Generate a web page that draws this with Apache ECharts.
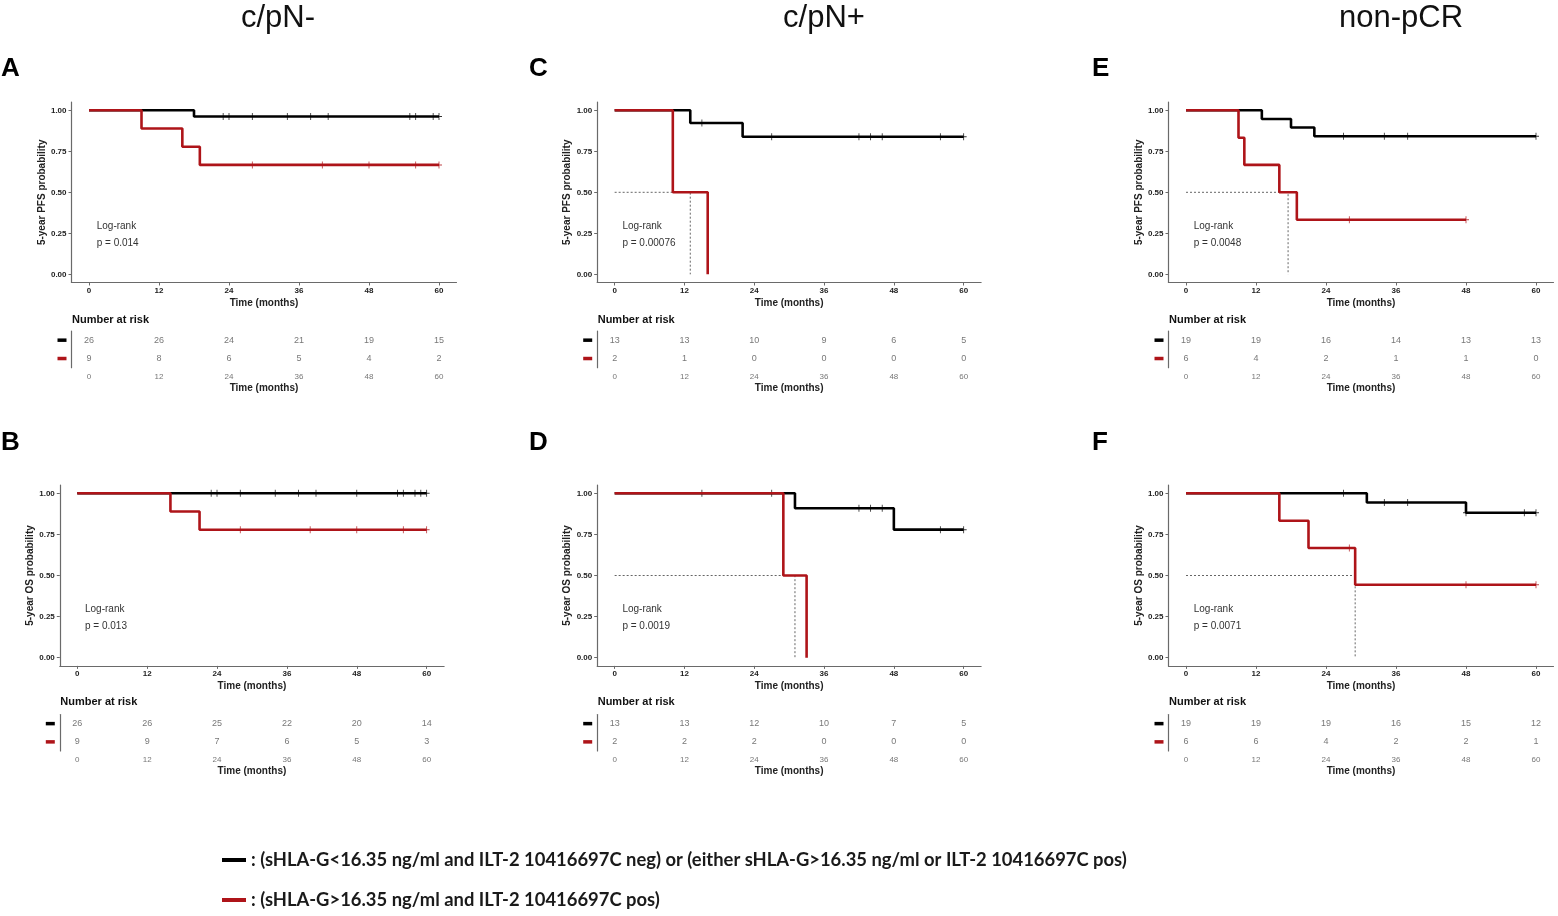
<!DOCTYPE html>
<html><head><meta charset="utf-8">
<script src="https://cdn.jsdelivr.net/npm/echarts@6/dist/echarts.min.js"></script>
<style>html,body{margin:0;padding:0;background:#fff}#c{width:1558px;height:916px}</style>
</head><body><div id="c"></div>
<script>
// ---------- data ----------
const timeTicks = [0, 12, 24, 36, 48, 60];
const probTicks = [0, 0.25, 0.5, 0.75, 1];
const riskRows = ['black', 'red'];
const columnTitles = ['c/pN-', 'c/pN+', 'non-pCR'];
const blackName = '(sHLA-G<16.35 ng/ml and ILT-2 10416697C neg) or (either sHLA-G>16.35 ng/ml or ILT-2 10416697C pos)';
const redName = '(sHLA-G>16.35 ng/ml and ILT-2 10416697C pos)';

// A: PFS, c/pN-
const pfsNegBlack = [[0, 1], [18, 0.962], [60, 0.962]];
const pfsNegRed = [[0, 1], [9, 0.889], [16, 0.778], [19, 0.667], [60, 0.667]];
const pfsNegBlackCens = [[23, 0.962], [24, 0.962], [28, 0.962], [34, 0.962], [38, 0.962], [41, 0.962], [55, 0.962], [56, 0.962], [59, 0.962], [60, 0.962]];
const pfsNegRedCens = [[28, 0.667], [40, 0.667], [48, 0.667], [56, 0.667], [60, 0.667]];
const pfsNegRiskBlack = [26, 26, 24, 21, 19, 15];
const pfsNegRiskRed = [9, 8, 6, 5, 4, 2];
// B: OS, c/pN-
const osNegBlack = [[0, 1], [60, 1]];
const osNegRed = [[0, 1], [16, 0.889], [21, 0.778], [60, 0.778]];
const osNegBlackCens = [[23, 1], [24, 1], [28, 1], [34, 1], [38, 1], [41, 1], [48, 1], [55, 1], [56, 1], [58, 1], [59, 1], [60, 1]];
const osNegRedCens = [[28, 0.778], [40, 0.778], [48, 0.778], [56, 0.778], [60, 0.778]];
const osNegRiskBlack = [26, 26, 25, 22, 20, 14];
const osNegRiskRed = [9, 9, 7, 6, 5, 3];
// C: PFS, c/pN+
const pfsPosBlack = [[0, 1], [13, 0.923], [22, 0.839], [60, 0.839]];
const pfsPosRed = [[0, 1], [10, 0.5], [16, 0]];
const pfsPosBlackCens = [[15, 0.923], [27, 0.839], [42, 0.839], [44, 0.839], [46, 0.839], [56, 0.839], [60, 0.839]];
const pfsPosRedCens = [];
const pfsPosMedian = [[0, 0.5], [13, 0.5], [13, 0]];
const pfsPosRiskBlack = [13, 13, 10, 9, 6, 5];
const pfsPosRiskRed = [2, 1, 0, 0, 0, 0];
// D: OS, c/pN+
const osPosBlack = [[0, 1], [31, 0.909], [48, 0.779], [60, 0.779]];
const osPosRed = [[0, 1], [29, 0.5], [33, 0]];
const osPosBlackCens = [[15, 1], [27, 1], [42, 0.909], [44, 0.909], [46, 0.909], [56, 0.779], [60, 0.779]];
const osPosRedCens = [];
const osPosMedian = [[0, 0.5], [31, 0.5], [31, 0]];
const osPosRiskBlack = [13, 13, 12, 10, 7, 5];
const osPosRiskRed = [2, 2, 2, 0, 0, 0];
// E: PFS, non-pCR
const pfsNpBlack = [[0, 1], [13, 0.947], [18, 0.895], [22, 0.842], [60, 0.842]];
const pfsNpRed = [[0, 1], [9, 0.833], [10, 0.667], [16, 0.5], [19, 0.333], [48, 0.333]];
const pfsNpBlackCens = [[27, 0.842], [34, 0.842], [38, 0.842], [60, 0.842]];
const pfsNpRedCens = [[28, 0.333], [48, 0.333]];
const pfsNpMedian = [[0, 0.5], [17.5, 0.5], [17.5, 0]];
const pfsNpRiskBlack = [19, 19, 16, 14, 13, 13];
const pfsNpRiskRed = [6, 4, 2, 1, 1, 0];
// F: OS, non-pCR
const osNpBlack = [[0, 1], [31, 0.944], [48, 0.882], [60, 0.882]];
const osNpRed = [[0, 1], [16, 0.833], [21, 0.667], [29, 0.444], [60, 0.444]];
const osNpBlackCens = [[27, 1], [34, 0.944], [38, 0.944], [48, 0.882], [58, 0.882], [60, 0.882]];
const osNpRedCens = [[28, 0.667], [48, 0.444], [60, 0.444]];
const osNpMedian = [[0, 0.5], [29, 0.5], [29, 0]];
const osNpRiskBlack = [19, 19, 19, 16, 15, 12];
const osNpRiskRed = [6, 6, 4, 2, 2, 1];

// ---------- layout / style ----------
const RED = '#AE1419';
const FONT = 'Liberation Sans, Arial, sans-serif';
const AX = '#6a6a6a';
const panels = [
  {L: 'A', row: 0, gl: 71.5, gw: 385, yName: '5-year PFS probability', black: pfsNegBlack, red: pfsNegRed, bc: pfsNegBlackCens, rc: pfsNegRedCens, med: null, rb: pfsNegRiskBlack, rr: pfsNegRiskRed, p: 'p = 0.014', lx: 10},
  {L: 'B', row: 1, gl: 59.8, gw: 384.3, yName: '5-year OS probability', black: osNegBlack, red: osNegRed, bc: osNegBlackCens, rc: osNegRedCens, med: null, rb: osNegRiskBlack, rr: osNegRiskRed, p: 'p = 0.013', lx: 10},
  {L: 'C', row: 0, gl: 597.2, gw: 383.9, yName: '5-year PFS probability', black: pfsPosBlack, red: pfsPosRed, bc: pfsPosBlackCens, rc: pfsPosRedCens, med: pfsPosMedian, rb: pfsPosRiskBlack, rr: pfsPosRiskRed, p: 'p = 0.00076', lx: 538},
  {L: 'D', row: 1, gl: 597.2, gw: 383.9, yName: '5-year OS probability', black: osPosBlack, red: osPosRed, bc: osPosBlackCens, rc: osPosRedCens, med: osPosMedian, rb: osPosRiskBlack, rr: osPosRiskRed, p: 'p = 0.0019', lx: 538},
  {L: 'E', row: 0, gl: 1168.5, gw: 385, yName: '5-year PFS probability', black: pfsNpBlack, red: pfsNpRed, bc: pfsNpBlackCens, rc: pfsNpRedCens, med: pfsNpMedian, rb: pfsNpRiskBlack, rr: pfsNpRiskRed, p: 'p = 0.0048', lx: 1101},
  {L: 'F', row: 1, gl: 1168.5, gw: 385, yName: '5-year OS probability', black: osNpBlack, red: osNpRed, bc: osNpBlackCens, rc: osNpRedCens, med: osNpMedian, rb: osNpRiskBlack, rr: osNpRiskRed, p: 'p = 0.0071', lx: 1101}
];
const rows = [
  {top: 102.1, h: 180.4, rt: 331, rh: 36.7, nar: 321, lr: 227, letter: 69},
  {top: 485.1, h: 180.8, rt: 714.5, rh: 36.5, nar: 703.7, lr: 610.3, letter: 443}
];
const titleX = [278, 824, 1401];

const plus = 'path://M3,0H4V7H3Z M0,3H7V4H0Z';
const grid = [], xAxis = [], yAxis = [], series = [], graphic = [];

panels.forEach((P, i) => {
  const R = rows[P.row];
  const gi = 2 * i, ri = 2 * i + 1;
  grid.push({left: P.gl, top: R.top, width: P.gw, height: R.h});
  grid.push({left: P.gl, top: R.rt, width: P.gw, height: R.rh});
  const xBase = {
    type: 'value', min: -3, max: 63, splitLine: {show: false},
    axisLine: {onZero: false, lineStyle: {color: AX, width: 1.2}},
    axisTick: {length: 3, lineStyle: {color: AX}, customValues: timeTicks},
    nameLocation: 'middle', name: 'Time (months)',
    nameTextStyle: {fontFamily: FONT, fontSize: 10, fontWeight: 'bold', color: '#222'}
  };
  xAxis.push(Object.assign({}, xBase, {gridIndex: gi, nameGap: 15.5,
    axisLabel: {customValues: timeTicks, fontFamily: FONT, fontSize: 8, fontWeight: 'bold', color: '#222', margin: 4}}));
  xAxis.push(Object.assign({}, xBase, {gridIndex: ri, nameGap: 15.5,
    axisLabel: {customValues: timeTicks, fontFamily: FONT, fontSize: 8, color: '#777', margin: 5}}));
  yAxis.push({
    gridIndex: gi, type: 'value', min: -0.05, max: 1.05, splitLine: {show: false},
    axisLine: {show: true, onZero: false, lineStyle: {color: AX, width: 1.2}},
    axisTick: {show: true, length: 3, lineStyle: {color: AX}, customValues: probTicks},
    axisLabel: {customValues: probTicks, formatter: v => v.toFixed(2), fontFamily: FONT, fontSize: 8, fontWeight: 'bold', color: '#222', margin: 5},
    name: P.yName, nameLocation: 'middle', nameGap: 19,
    nameTextStyle: {fontFamily: FONT, fontSize: 10, fontWeight: 'bold', color: '#222'}
  });
  yAxis.push({
    gridIndex: ri, type: 'category', data: riskRows, inverse: true,
    axisLine: {show: true, onZero: false, lineStyle: {color: AX, width: 1.2}},
    axisTick: {show: false},
    axisLabel: {margin: 5, formatter: v => v === 'black' ? '{k| }' : '{r| }',
      rich: {k: {backgroundColor: '#000', width: 9, height: 3.5, fontSize: 1},
             r: {backgroundColor: RED, width: 9, height: 3.5, fontSize: 1}}}
  });
  if (P.med) series.push({type: 'line', xAxisIndex: gi, yAxisIndex: gi, data: P.med, symbol: 'none',
    lineStyle: {color: '#555', width: 0.9, type: [2, 2]}, silent: true, z: 1});
  series.push({name: blackName, type: 'line', step: 'end', xAxisIndex: gi, yAxisIndex: gi, data: P.black, symbol: 'none',
    itemStyle: {color: '#000'}, lineStyle: {color: '#000', width: 2.6}, z: 2});
  series.push({name: 'cens-b', type: 'scatter', xAxisIndex: gi, yAxisIndex: gi, data: P.bc, symbol: plus, symbolSize: [6, 7],
    itemStyle: {color: '#000'}, z: 3});
  series.push({name: redName, type: 'line', step: 'end', xAxisIndex: gi, yAxisIndex: gi, data: P.red, symbol: 'none',
    itemStyle: {color: RED}, lineStyle: {color: RED, width: 2.6}, z: 4});
  series.push({name: 'cens-r', type: 'scatter', xAxisIndex: gi, yAxisIndex: gi, data: P.rc, symbol: plus, symbolSize: [6, 7],
    itemStyle: {color: RED}, z: 5});
  [[P.rb, 0], [P.rr, 1]].forEach(([arr, r]) => {
    series.push({type: 'scatter', xAxisIndex: ri, yAxisIndex: ri, symbolSize: 0,
      data: timeTicks.map((t, j) => [t, r, arr[j]]),
      label: {show: true, position: 'inside', formatter: p => String(p.value[2]), fontFamily: FONT, fontSize: 9, color: '#555'}});
  });
  graphic.push({type: 'text', left: P.gl + 25.2, top: R.lr - 6, style: {text: 'Log-rank', font: '10px ' + FONT, fill: '#333'}});
  graphic.push({type: 'text', left: P.gl + 25.2, top: R.lr + 11, style: {text: P.p, font: '10px ' + FONT, fill: '#333'}});
  graphic.push({type: 'text', left: P.gl + 0.5, top: R.nar - 7, style: {text: 'Number at risk', font: 'bold 11px ' + FONT, fill: '#111'}});
  graphic.push({type: 'text', left: P.lx - 9, top: R.letter - 13, style: {text: P.L, font: 'bold 26px ' + FONT, fill: '#000'}});
});
columnTitles.forEach((t, k) => {
  graphic.push({type: 'text', x: titleX[k], y: 18, style: {text: t, font: '31px ' + FONT, fill: '#111', align: 'center', verticalAlign: 'middle'}});
});

const legendText = {fontSize: 18.4, fontFamily: 'Lato, ' + FONT, fontWeight: 'bold', color: '#1a1a1a', lineHeight: 22};
const chart = echarts.init(document.getElementById('c'));
chart.setOption({
  animation: false,
  backgroundColor: '#fff',
  grid, xAxis, yAxis, series, graphic,
  legend: [
    {left: 222, top: 849, padding: 0, itemWidth: 24, itemHeight: 4, itemGap: 0, icon: 'rect',
     selectedMode: false, data: [blackName], formatter: n => ': ' + n, textStyle: legendText},
    {left: 222, top: 889, padding: 0, itemWidth: 24, itemHeight: 4, itemGap: 0, icon: 'rect',
     selectedMode: false, data: [redName], formatter: n => ': ' + n, textStyle: legendText}
  ]
});
</script></body></html>
